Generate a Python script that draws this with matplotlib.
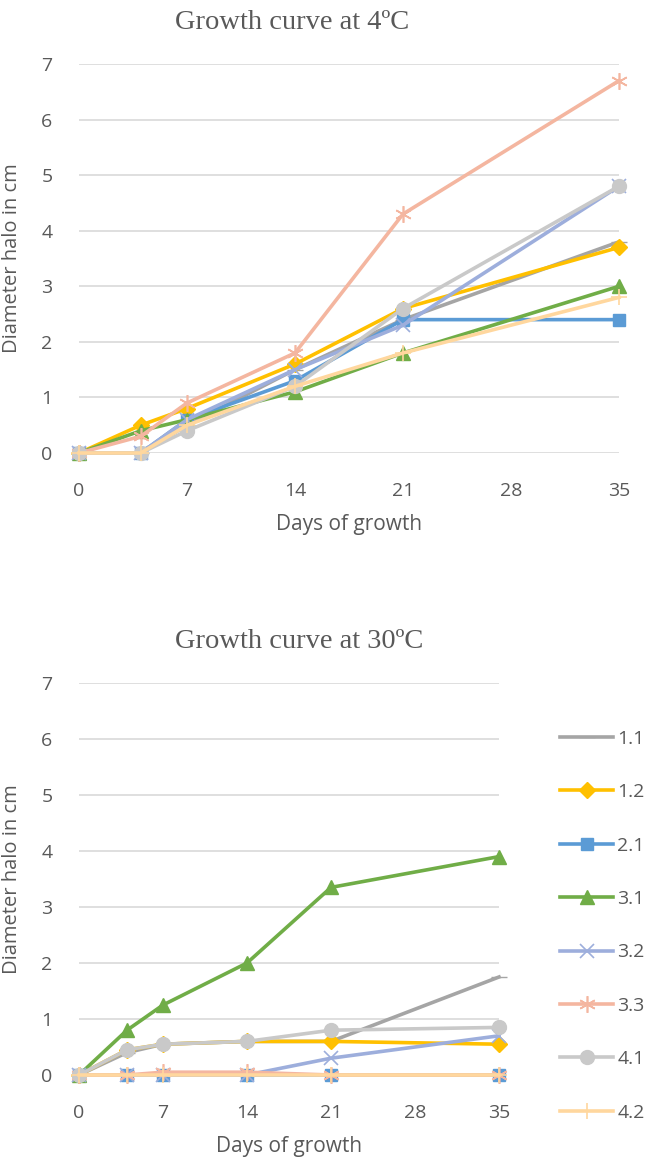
import matplotlib
matplotlib.use("Agg")
import matplotlib.pyplot as plt

# data
days = [0, 4, 7, 14, 21, 35]
series = ["1.1", "1.2", "2.1", "3.1", "3.2", "3.3", "4.1", "4.2"]

growth_4c = {
    "1.1": [0, 0, 0.5, 1.5, 2.4, 3.8],
    "1.2": [0, 0.5, 0.8, 1.6, 2.6, 3.7],
    "2.1": [0, 0, 0.6, 1.3, 2.4, 2.4],
    "3.1": [0, 0.4, 0.6, 1.1, 1.8, 3.0],
    "3.2": [0, 0, 0.6, 1.5, 2.3, 4.8],
    "3.3": [0, 0.3, 0.9, 1.8, 4.3, 6.7],
    "4.1": [0, 0, 0.4, 1.2, 2.6, 4.8],
    "4.2": [0, 0, 0.5, 1.2, 1.8, 2.8],
}
growth_30c = {
    "1.1": [0, 0.4, 0.55, 0.6, 0.6, 1.75],
    "1.2": [0, 0.45, 0.55, 0.6, 0.6, 0.55],
    "2.1": [0, 0, 0, 0, 0, 0],
    "3.1": [0, 0.8, 1.25, 2.0, 3.35, 3.9],
    "3.2": [0, 0, 0, 0, 0.3, 0.7],
    "3.3": [0, 0, 0.05, 0.05, 0, 0],
    "4.1": [0, 0.45, 0.55, 0.6, 0.8, 0.85],
    "4.2": [0, 0, 0, 0, 0, 0],
}

colors = ["#A5A5A5", "#FFC000", "#5B9BD5", "#70AD47",
          "#9DAEDC", "#F4B6A0", "#C9C9C9", "#FFD79E"]
markers = ["_", "D", "s", "^", "x", (6, 2, 0), "o", "+"]
msizes = [12, 8, 9, 10, 10, 12, 10, 12]

text_col = "#595959"
sans = ["Open Sans", "DejaVu Sans"]
serif = ["Liberation Serif", "DejaVu Serif"]

fig = plt.figure(figsize=(6.54, 11.57), dpi=100)
ax1 = fig.add_axes([79 / 654, 1 - 453 / 1157, 540 / 654, 389 / 1157])
ax2 = fig.add_axes([79 / 654, 1 - 1075 / 1157, 420 / 654, 392 / 1157])


def draw(ax, data, title):
    lines = []
    for name, c, m, ms in zip(series, colors, markers, msizes):
        (ln,) = ax.plot(days, data[name], color=c, lw=2.6, marker=m,
                        markersize=ms, markeredgecolor=c, markerfacecolor=c,
                        markeredgewidth=1.2 if m in ("x", "+", (6, 2, 0)) else 1,
                        clip_on=False, label=name)
        lines.append(ln)
    ax.set_xlim(0, 35)
    ax.set_ylim(0, 7)
    ax.set_xticks(range(0, 36, 7))
    ax.set_yticks(range(0, 8))
    ax.grid(axis="y", color="#D9D9D9", lw=1.2)
    ax.set_axisbelow(True)
    for s in ax.spines.values():
        s.set_visible(False)
    ax.tick_params(length=0, labelsize=14, colors=text_col)
    ax.tick_params(axis="x", pad=21)
    ax.tick_params(axis="y", pad=19)
    for lab in ax.get_xticklabels() + ax.get_yticklabels():
        lab.set_family(sans)
    ax.set_xlabel("Days of growth", fontsize=15, color=text_col, family=sans, labelpad=10)
    ax.set_ylabel("Diameter halo in cm", fontsize=14.5, color=text_col, family=sans)
    ax.set_title(title, fontsize=20.5, color=text_col, family=serif, pad=25)
    return lines


draw(ax1, growth_4c, "Growth curve at 4ºC")
lines = draw(ax2, growth_30c, "Growth curve at 30ºC")
ax1.title.set_position((0.395, 1))
ax2.title.set_position((0.525, 1))
ax1.yaxis.set_label_coords(-0.105, 0.5)
ax2.yaxis.set_label_coords(-0.135, 0.5)

leg = fig.legend(handles=lines, loc="upper left", bbox_to_anchor=(552 / 654, 1 - 722 / 1157),
                 frameon=False, fontsize=14, handlelength=2.75, labelspacing=1.82,
                 handletextpad=0.2, borderaxespad=0)
for t in leg.get_texts():
    t.set_color(text_col)
    t.set_family(sans)

fig.savefig("out.png", dpi=100)
